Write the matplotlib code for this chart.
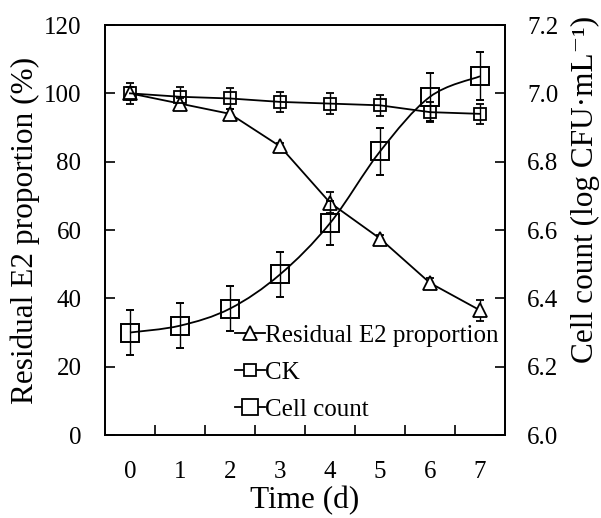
import matplotlib
matplotlib.use("Agg")
import matplotlib.pyplot as plt
import numpy as np
from matplotlib.path import Path
from matplotlib.patches import PathPatch
from matplotlib.lines import Line2D

plt.rcParams["font.family"] = ["Liberation Serif", "DejaVu Serif"]

days = [0, 1, 2, 3, 4, 5, 6, 7]
e2_residual = [100, 97, 94, 84.5, 68, 57.5, 44.5, 36.5]
e2_err = [2, 1.5, 1.5, 1, 3, 1, 1.5, 3]
ck = [100, 99, 98.5, 97.5, 97, 96.5, 94.5, 94]
ck_err = [3, 3, 3, 3, 3, 3, 3, 3]
cell_count = [6.30, 6.32, 6.37, 6.47, 6.62, 6.83, 6.99, 7.05]
cell_err = [0.065, 0.065, 0.065, 0.065, 0.065, 0.07, 0.07, 0.07]


def smooth_path(x, y):
    # Excel-style smoothed line: Catmull-Rom segments rendered as cubic Beziers
    x = np.asarray(x, float)
    y = np.asarray(y, float)
    verts = [(x[0], y[0])]
    codes = [Path.MOVETO]
    n = len(x)
    for i in range(n - 1):
        x0, y0 = (x[i - 1], y[i - 1]) if i > 0 else (x[i], y[i])
        x3, y3 = (x[i + 2], y[i + 2]) if i + 2 < n else (x[i + 1], y[i + 1])
        c1 = (x[i] + (x[i + 1] - x0) / 6, y[i] + (y[i + 1] - y0) / 6)
        c2 = (x[i + 1] - (x3 - x[i]) / 6, y[i + 1] - (y3 - y[i]) / 6)
        verts += [c1, c2, (x[i + 1], y[i + 1])]
        codes += [Path.CURVE4] * 3
    return Path(verts, codes)


fig = plt.figure(figsize=(6.01, 5.18), dpi=100)
ax = fig.add_axes([0.1747, 0.1602, 0.6656, 0.7915])
ax2 = ax.twinx()

ax.errorbar(days, e2_residual, yerr=e2_err, color="black", lw=1.3,
            marker="^", ms=10, mfc="white", mec="black", mew=1.3,
            capsize=3, elinewidth=1, zorder=3)
ax.errorbar(days, ck, yerr=ck_err, color="black", lw=1.3,
            marker="s", ms=9, mfc="none", mec="black", mew=1.3,
            capsize=3, elinewidth=1, zorder=3)

ax2.errorbar(days, cell_count, yerr=cell_err, color="black", ls="none",
             marker="s", ms=13, mfc="none", mec="black", mew=1.4,
             capsize=3, elinewidth=1, zorder=3)
ax2.add_patch(PathPatch(smooth_path(days, cell_count), fc="none",
                        ec="black", lw=1.3, zorder=2))

ax.set_xlim(-0.5, 7.5)
ax.set_ylim(0, 120)
ax2.set_ylim(6.0, 7.2)
ax.set_xticks(days)
ax.set_xticks(np.arange(0.5, 7, 1.0), minor=True)
ax.set_yticks(range(0, 121, 20))
ax2.set_yticks(np.arange(6.0, 7.21, 0.2))
ax2.set_yticklabels([f"{v:.1f}" for v in np.arange(6.0, 7.21, 0.2)])

for a in (ax, ax2):
    a.tick_params(direction="in", length=7, width=1.2, labelsize=18)
    for s in a.spines.values():
        s.set_linewidth(1.3)
ax.tick_params(axis="x", which="major", length=0, pad=19)
ax.tick_params(axis="x", which="minor", direction="in", length=7, width=1.2)
ax.tick_params(axis="y", pad=17)
ax2.tick_params(axis="y", pad=16)

ax.set_xlabel("Time (d)", fontsize=22.5, labelpad=2)
ax.set_ylabel("Residual E2 proportion (%)", fontsize=22.5, labelpad=3)
ax2.set_ylabel("Cell count (log CFU\u00b7mL\u207b\u00b9)", fontsize=22.5)
ax2.yaxis.set_label_coords(1.165, 0.6)

handles = [
    Line2D([], [], color="black", lw=1.3, marker="^", ms=10, mfc="white", mew=1.3),
    Line2D([], [], color="black", lw=1.3, marker="s", ms=8, mfc="white", mew=1.3),
    Line2D([], [], color="black", lw=1.3, marker="s", ms=11, mfc="white", mew=1.3),
]
ax.legend(handles, ["Residual E2 proportion", "CK", "Cell count"],
          loc="lower left", bbox_to_anchor=(0.30, 0.01), frameon=False,
          fontsize=18, handlelength=1.2, handletextpad=0.0, labelspacing=0.58,
          borderaxespad=0)

fig.savefig("out.png", dpi=100)
